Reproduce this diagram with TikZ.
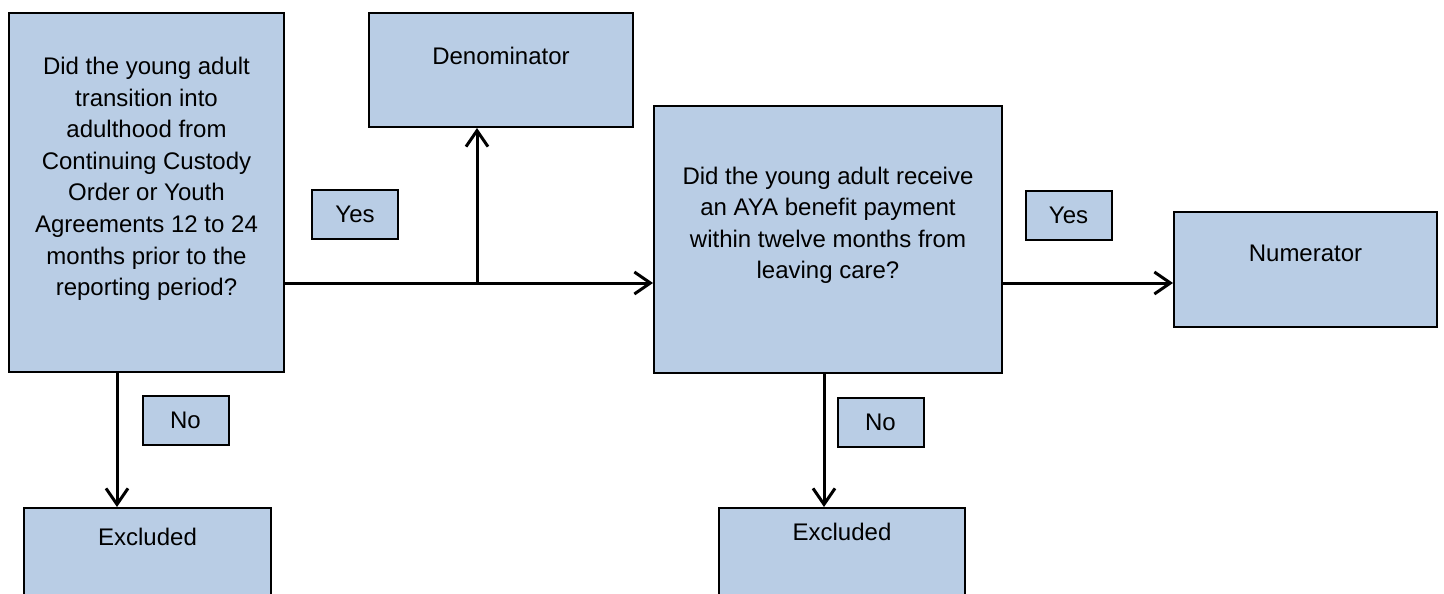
\documentclass[tikz,border=0pt]{standalone}
\usepackage{fontspec}
\setmainfont{Liberation Sans}
\usepackage{tikz}
\usepackage{xcolor}
\usetikzlibrary{shapes.geometric, arrows.meta}
\definecolor{boxblue}{RGB}{185,205,229}
\tikzstyle{block} = [rectangle, draw=black, line width=2pt, fill=boxblue]
\tikzstyle{tag} = [block, minimum width=86pt, minimum height=49pt]
\tikzstyle{boxtext} = [inner sep=0pt, align=center, anchor=north]
\tikzstyle{arrow} = [line width=3pt,-{Straight Barb[length=16pt,width=22pt]}]

\begin{document}
\begin{tikzpicture}[x=1pt, y=-1pt, font=\fontsize{24}{31.6}\selectfont]
\clip (0,0) rectangle (1444,594);
% question boxes
\node (q1) [block, minimum width=275pt, minimum height=359pt,
  label={[boxtext, yshift=-45pt]north:Did the young adult\\transition into\\adulthood from\\Continuing Custody\\Order or Youth\\Agreements 12 to 24\\months prior to the\\reporting period?}] at (146.5,192.5) {};
\node (q2) [block, minimum width=348pt, minimum height=267pt,
  label={[boxtext, yshift=-62pt]north:Did the young adult receive\\an AYA benefit payment\\within twelve months from\\leaving care?}] at (828,239) {};
% result boxes
\node (den) [block, minimum width=264pt, minimum height=114pt,
  label={[boxtext, yshift=-35pt]north:Denominator}] at (501,70) {};
\node (num) [block, minimum width=263pt, minimum height=115pt,
  label={[boxtext, yshift=-34pt]north:Numerator}] at (1305.5,269.5) {};
\node (ex1) [block, minimum width=247pt, minimum height=118pt,
  label={[boxtext, yshift=-21pt]north:Excluded}] at (147.5,567) {};
\node (ex2) [block, minimum width=246pt, minimum height=118pt,
  label={[boxtext, yshift=-16pt]north:Excluded}] at (842,567) {};
% yes / no tags
\node (yes1) [tag] at (355,214.5) {Yes};
\node (yes2) [tag] at (1068.5,215) {Yes};
\node (no1) [tag] at (185.5,420) {No};
\node (no2) [tag] at (880.5,422.5) {No};
% connectors
\coordinate (split) at (477,283);
\coordinate (drop1) at ([xshift=-29.5pt]q1.south);
\coordinate (drop2) at ([xshift=-4pt]q2.south);
\draw [arrow] (q1.east |- split) -- (q2.west |- split);
\draw [arrow] (split) -- (split |- den.south);
\draw [arrow] (q2.east |- split) -- (num.west |- split);
\draw [arrow] (drop1) -- (drop1 |- ex1.north);
\draw [arrow] (drop2) -- (drop2 |- ex2.north);
\end{tikzpicture}
\end{document}
